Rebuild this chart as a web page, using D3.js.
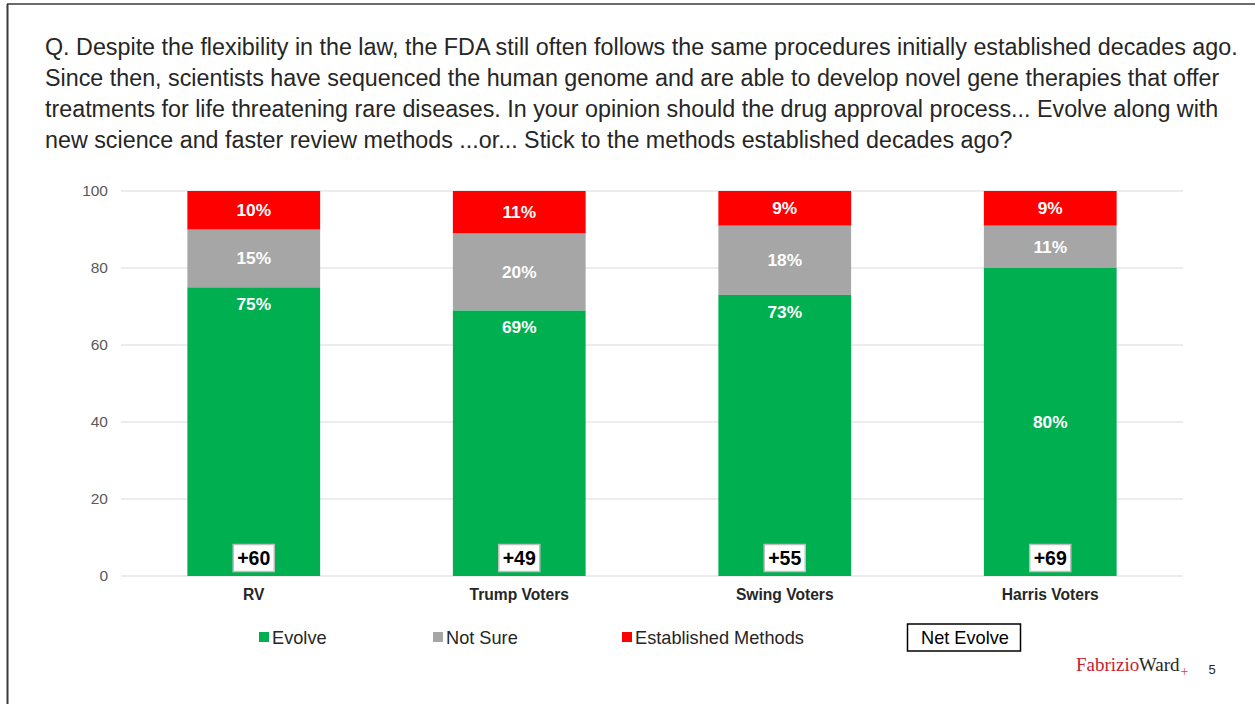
<!DOCTYPE html>
<html>
<head>
<meta charset="utf-8">
<script src="https://cdn.jsdelivr.net/npm/d3@7"></script>
<style>
  html, body { margin: 0; padding: 0; background: #fff; }
  svg { display: block; font-family: "Liberation Sans", Arial, sans-serif; }
</style>
</head>
<body>
<svg id="chart" width="1255" height="704"></svg>
<script>
// Survey groups and responses (percent)
const categories = ["RV", "Trump Voters", "Swing Voters", "Harris Voters"];
const evolve = [75, 69, 73, 80];
const notSure = [15, 20, 18, 11];
const established = [10, 11, 9, 9];
const netEvolve = ["+60", "+49", "+55", "+69"];
const seriesNames = ["Evolve", "Not Sure", "Established Methods"];
const yTicks = [0, 20, 40, 60, 80, 100];
// where the Evolve value label sits inside its segment
const evolveLabelAnchor = ["top", "top", "top", "middle"];

const titleLines = [
  "Q. Despite the flexibility in the law, the FDA still often follows the same procedures initially established decades ago.",
  "Since then, scientists have sequenced the human genome and are able to develop novel gene therapies that offer",
  "treatments for life threatening rare diseases. In your opinion should the drug approval process... Evolve along with",
  "new science and faster review methods ...or... Stick to the methods established decades ago?"
];

const colors = { "Evolve": "#00b050", "Not Sure": "#a6a6a6", "Established Methods": "#ff0000" };

const svg = d3.select("#chart");

// slide frame
svg.append("line").attr("x1", 7).attr("x2", 1255).attr("y1", 4).attr("y2", 4)
  .attr("stroke", "#3a3a3a").attr("stroke-width", 1.5);
svg.append("line").attr("x1", 7.5).attr("x2", 7.5).attr("y1", 4).attr("y2", 704)
  .attr("stroke", "#3a3a3a").attr("stroke-width", 2);

// question text
svg.append("g").selectAll("text").data(titleLines).join("text")
  .attr("x", 45).attr("y", (d, i) => 55 + i * 31)
  .attr("font-size", 23.3).attr("fill", "#262626")
  .text(d => d);

const plot = { left: 121, right: 1183, top: 191, bottom: 576 };

const x = d3.scaleBand().domain(categories).range([plot.left, plot.right]).paddingInner(0.5).paddingOuter(0.25);
const y = d3.scaleLinear().domain([0, 100]).range([plot.bottom, plot.top]);

// gridlines
svg.append("g").selectAll("line").data(yTicks).join("line")
  .attr("x1", plot.left).attr("x2", plot.right)
  .attr("y1", d => y(d)).attr("y2", d => y(d))
  .attr("stroke", "#d9d9d9").attr("stroke-width", 1);

// y axis labels
const yAxis = svg.append("g").attr("transform", `translate(${plot.left},0)`)
  .call(d3.axisLeft(y).tickValues(yTicks).tickSize(0).tickPadding(13));
yAxis.select(".domain").remove();
yAxis.selectAll("text").attr("font-size", 15.5).attr("fill", "#595959")
  .attr("font-family", "Liberation Sans, Arial, sans-serif");

// stacked data
const rows = categories.map((c, i) => ({
  cat: c, "Evolve": evolve[i], "Not Sure": notSure[i], "Established Methods": established[i], idx: i
}));
const stack = d3.stack().keys(seriesNames)(rows);

const layers = svg.append("g").selectAll("g").data(stack).join("g")
  .attr("fill", d => colors[d.key]);

layers.selectAll("rect").data(d => d).join("rect")
  .attr("x", d => x(d.data.cat))
  .attr("width", x.bandwidth())
  .attr("y", d => y(d[1]))
  .attr("height", d => y(d[0]) - y(d[1]));

// value labels
layers.each(function(layer) {
  d3.select(this).selectAll("text").data(layer).join("text")
    .attr("x", d => x(d.data.cat) + x.bandwidth() / 2)
    .attr("y", d => {
      if (layer.key === "Evolve" && evolveLabelAnchor[d.data.idx] === "top") return y(d[1]) + 17;
      return (y(d[0]) + y(d[1])) / 2;
    })
    .attr("dy", "0.35em")
    .attr("text-anchor", "middle")
    .attr("font-size", 17.3).attr("font-weight", "bold").attr("fill", "#fff")
    .text(d => `${d.data[layer.key]}%`);
});

// net evolve boxes
const net = svg.append("g").selectAll("g").data(categories).join("g")
  .attr("transform", d => `translate(${x(d) + x.bandwidth() / 2},${y(0) - 18})`);
net.append("rect").attr("x", -20.5).attr("y", -13.5).attr("width", 41).attr("height", 27)
  .attr("fill", "#fff").attr("stroke", "#bfbfbf").attr("stroke-width", 1.5);
net.append("text").attr("text-anchor", "middle").attr("dy", "0.36em")
  .attr("font-size", 19.5).attr("font-weight", "bold").attr("fill", "#000")
  .text((d, i) => netEvolve[i]);

// category labels
svg.append("g").selectAll("text").data(categories).join("text")
  .attr("x", d => x(d) + x.bandwidth() / 2).attr("y", 600)
  .attr("text-anchor", "middle")
  .attr("font-size", 15.6).attr("font-weight", "bold").attr("fill", "#262626")
  .text(d => d);

// legend
const legendX = [259, 433, 622];
const lg = svg.append("g").selectAll("g").data(seriesNames).join("g")
  .attr("transform", (d, i) => `translate(${legendX[i]},637)`);
lg.append("rect").attr("x", 0).attr("y", -5).attr("width", 10).attr("height", 10)
  .attr("fill", d => colors[d]);
lg.append("text").attr("x", 13).attr("dy", "0.36em")
  .attr("font-size", 18.2).attr("fill", "#262626").text(d => d);

svg.append("rect").attr("x", 907.5).attr("y", 624).attr("width", 113).attr("height", 27)
  .attr("fill", "#fff").attr("stroke", "#000").attr("stroke-width", 1.5);
svg.append("text").attr("x", 965).attr("y", 637.5).attr("dy", "0.36em")
  .attr("text-anchor", "middle").attr("font-size", 18.2).attr("fill", "#000").text("Net Evolve");

// brand mark and page number
const logo = svg.append("text").attr("x", 1076).attr("y", 671)
  .attr("font-family", "Liberation Serif, Times New Roman, serif").attr("font-size", 19);
logo.append("tspan").attr("fill", "#c8202f").text("Fabrizio");
logo.append("tspan").attr("fill", "#262626").attr("dx", -0.5).text("Ward");
logo.append("tspan").attr("fill", "#d9414f").attr("font-size", 14).attr("dx", 1).attr("dy", 5).text("+");

svg.append("text").attr("x", 1212).attr("y", 674).attr("text-anchor", "middle")
  .attr("font-size", 13).attr("fill", "#262626").text("5");
</script>
</body>
</html>
